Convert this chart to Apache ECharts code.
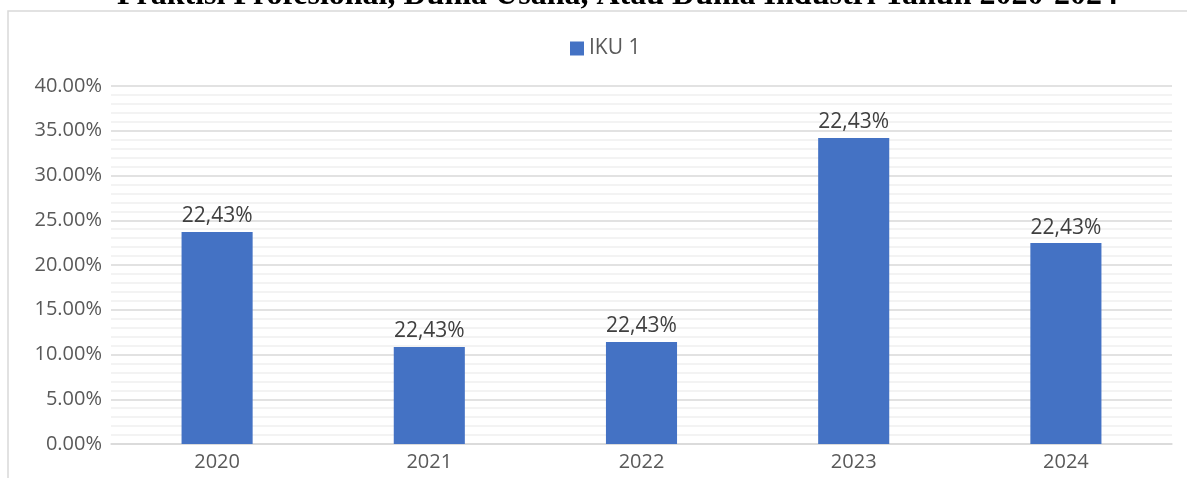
<!DOCTYPE html>
<html>
<head>
<meta charset="utf-8">
<script src="https://cdn.jsdelivr.net/npm/echarts@6/dist/echarts.min.js"></script>
<style>
  html, body { margin: 0; padding: 0; background: #fff; }
  #chart { width: 1187px; height: 478px; }
</style>
</head>
<body>
<div id="chart"></div>
<script>
// data
const years = ['2020', '2021', '2022', '2023', '2024']
const ikuValues = [23.7, 10.85, 11.4, 34.2, 22.45]
const ikuLabels = ['22,43%', '22,43%', '22,43%', '22,43%', '22,43%']
const seriesName = 'IKU 1'
const titleText = 'Praktisi Profesional, Dunia Usaha, Atau Dunia Industri Tahun 2020-2024'

const chart = echarts.init(document.getElementById('chart'))

const font = '"Open Sans", "Noto Sans", sans-serif'

const option = {
  animation: false,
  textStyle: { fontFamily: font },
  title: {
    text: titleText,
    left: 112,
    top: -25,
    textStyle: {
      fontFamily: '"Liberation Serif", "Times New Roman", serif',
      fontWeight: 'bold',
      fontSize: 32,
      color: '#000'
    }
  },
  graphic: [
    {
      type: 'rect',
      shape: { x: 8, y: 11, width: 1200, height: 500 },
      style: { fill: '#fff', stroke: '#d9d9d9', lineWidth: 1.5 },
      silent: true,
      z: -1
    }
  ],
  legend: {
    top: 33,
    left: 565,
    itemWidth: 14,
    itemHeight: 14,
    itemGap: 6,
    icon: 'rect',
    textStyle: { fontSize: 21, color: '#595959', fontFamily: font }
  },
  grid: {
    left: 111,
    right: 15,
    top: 86,
    bottom: 34
  },
  xAxis: {
    type: 'category',
    data: years,
    axisTick: { show: false },
    axisLine: { lineStyle: { color: '#d9d9d9', width: 1.5 } },
    axisLabel: { fontSize: 20, color: '#595959', margin: 8 }
  },
  yAxis: {
    type: 'value',
    min: 0,
    max: 40,
    interval: 5,
    axisLine: { show: false },
    axisTick: { show: false },
    axisLabel: {
      fontSize: 20,
      color: '#595959',
      margin: 9,
      formatter: v => v.toFixed(2) + '%'
    },
    splitLine: { lineStyle: { color: '#d9d9d9', width: 1.5 } },
    minorTick: { show: false, splitNumber: 5 },
    minorSplitLine: { show: true, lineStyle: { color: '#f0f0f0', width: 1.5 } }
  },
  series: [
    {
      name: seriesName,
      type: 'bar',
      barWidth: '33.5%',
      itemStyle: { color: '#4472c4' },
      data: ikuValues,
      label: {
        show: true,
        position: 'top',
        distance: 5,
        fontSize: 21,
        color: '#404040',
        formatter: p => ikuLabels[p.dataIndex]
      }
    }
  ]
}

chart.setOption(option)
</script>
</body>
</html>
